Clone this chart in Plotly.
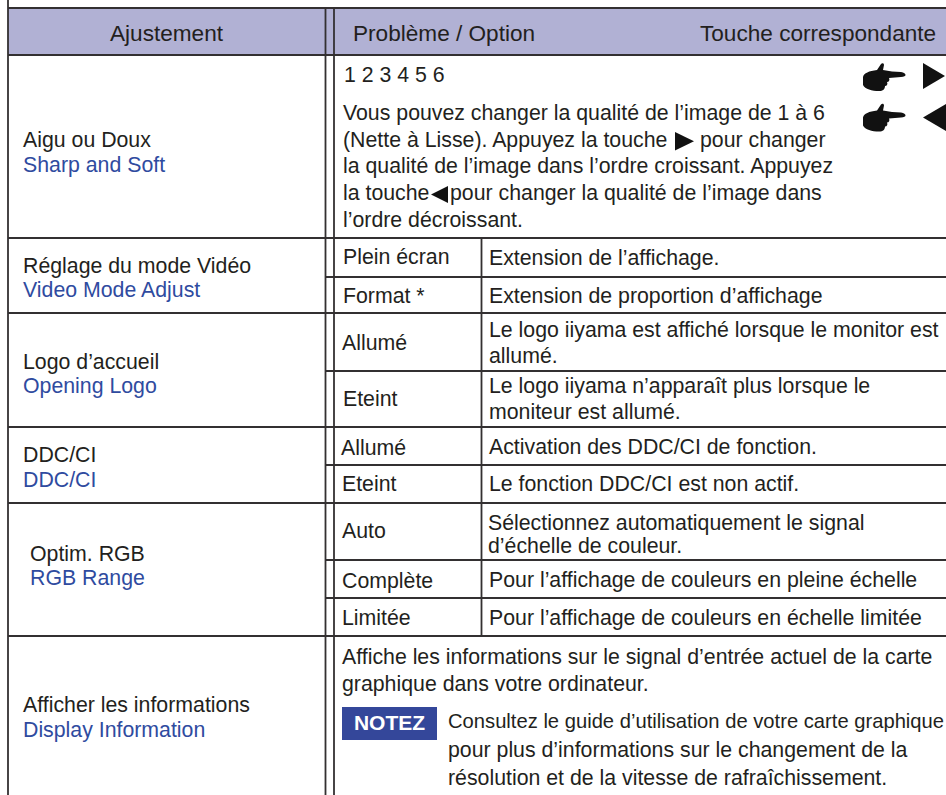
import plotly.graph_objects as go

FONT = "Liberation Sans"
INK = "#231f20"
BLUE = "#2f4b9f"
RULE = "#333031"
HEADER_FILL = "#b1b1d4"
NOTE_FILL = "#34479a"
GLYPH = "#111111"

# --- table structure ---
group_rules = [8, 55, 238, 313, 427, 503, 636]
row_rules = [277, 371, 465, 560, 598]
column_rules = [325.5, 334]
option_rule = 481.5

# --- header ---
header_text = ["Ajustement", "Problème / Option", "Touche correspondante"]
header_x = [110, 353, 700]
header_y = [35, 35, 35]

# --- black body text ---
body_text = [
    "Aigu ou Doux", "Réglage du mode Vidéo", "Logo d’accueil", "DDC/CI", "Optim. RGB",
    "Afficher les informations",
    "1 2 3 4 5 6",
    "Vous pouvez changer la qualité de l’image de 1 à 6",
    "(Nette à Lisse). Appuyez la touche", "pour changer",
    "la qualité de l’image dans l’ordre croissant. Appuyez",
    "la touche", "pour changer la qualité de l’image dans",
    "l’ordre décroissant.",
    "Plein écran", "Format *", "Extension de l’affichage.", "Extension de proportion d’affichage",
    "Allumé", "Eteint",
    "Le logo iiyama est affiché lorsque le monitor est", "allumé.",
    "Le logo iiyama n’apparaît plus lorsque le", "moniteur est allumé.",
    "Allumé", "Activation des DDC/CI de fonction.",
    "Eteint", "Le fonction DDC/CI est non actif.",
    "Auto", "Sélectionnez automatiquement le signal", "d’échelle de couleur.",
    "Complète", "Pour l’affichage de couleurs en pleine échelle",
    "Limitée", "Pour l’affichage de couleurs en échelle limitée",
    "Affiche les informations sur le signal d’entrée actuel de la carte",
    "graphique dans votre ordinateur.",
    "Consultez le guide d’utilisation de votre carte graphique",
    "pour plus d’informations sur le changement de la",
    "résolution et de la vitesse de rafraîchissement.",
]
body_x = [
    23, 23, 23, 23, 30, 23,
    344, 343, 343, 700, 343, 343, 450, 343,
    343, 343, 489, 489,
    342, 343, 489, 489, 489, 489,
    341, 489, 342, 489,
    342, 488, 488, 342, 489, 342, 489,
    342, 342, 448, 448, 448,
]
body_y = [
    142, 268, 364, 457, 556, 707,
    77, 115, 142, 142, 168, 195, 195, 222,
    259, 298, 260, 298,
    345, 401, 332, 358, 388, 414,
    450, 449, 486, 486,
    533, 525, 548, 583, 582, 620, 620,
    659, 686, 723, 752, 780,
]
body_size = [21.3] * len(body_text)
body_size[-3] = 20.2

# --- blue (English) labels ---
blue_text = ["Sharp and Soft", "Video Mode Adjust", "Opening Logo", "DDC/CI", "RGB Range", "Display Information"]
blue_x = [23, 23, 23, 23, 30, 23]
blue_y = [167, 292, 388, 482, 580, 732]

# --- note badge ---
note_text = ["NOTEZ"]
note_x = [389.5]
note_y = [725]
note_box = (342, 437, 707, 740)

fig = go.Figure()


def rule(x0, x1, y0, y1, width=1.8):
    fig.add_trace(go.Scatter(x=[x0, x1], y=[y0, y1], mode="lines",
                             line=dict(color=RULE, width=width),
                             hoverinfo="skip", showlegend=False))


fig.add_shape(type="rect", x0=8, x1=946, y0=group_rules[0], y1=group_rules[1],
              fillcolor=HEADER_FILL, line_width=0, layer="below")
fig.add_shape(type="rect", x0=note_box[0], x1=note_box[1], y0=note_box[2], y1=note_box[3],
              fillcolor=NOTE_FILL, line_width=0, layer="below")

for y in group_rules:
    rule(8, 946, y, y)
for y in row_rules:
    rule(column_rules[0], 946, y, y)
rule(8, 8, 0, 795)
for x in column_rules:
    rule(x, x, group_rules[0], 795)
rule(option_rule, option_rule, group_rules[2], group_rules[6])


def hand(ox, oy):
    def p(x, y):
        return f"{ox + x},{oy + y}"
    path = (f"M{p(0, 14)} C{p(1, 10)} {p(6, 8)} {p(14, 7)} L{p(18, 1)} C{p(19, 0)} {p(21, 0)} {p(21, 2)} "
            f"L{p(20, 7)} C{p(26, 8)} {p(32, 9)} {p(38, 9)} C{p(44, 10)} {p(44, 14)} {p(38, 14)} L{p(26, 15)} "
            f"C{p(27, 17)} {p(26, 19)} {p(24, 19)} C{p(25, 21)} {p(24, 23)} {p(22, 23)} "
            f"C{p(22, 26)} {p(20, 28)} {p(16, 28)} C{p(9, 28)} {p(2, 26)} {p(0, 22)} Z")
    fig.add_shape(type="path", path=path, fillcolor=GLYPH, line_width=0)


def arrow(x0, x1, y0, y1, tip_right=True):
    if tip_right:
        path = f"M{x0},{y0} L{x1},{(y0 + y1) / 2} L{x0},{y1} Z"
    else:
        path = f"M{x1},{y0} L{x0},{(y0 + y1) / 2} L{x1},{y1} Z"
    fig.add_shape(type="path", path=path, fillcolor=GLYPH, line_width=0)


hand(863, 63)
hand(863, 103.5)
arrow(923, 945, 63, 89, True)
arrow(923, 946, 104, 131, False)
arrow(675, 694, 132, 150.5, True)
arrow(431, 448, 186, 203, False)


def text_trace(x, y, text, size, color, bold=False, pos="middle right"):
    fig.add_trace(go.Scatter(x=x, y=y, text=text, mode="text", textposition=pos,
                             textfont=dict(family=FONT, size=size, color=color,
                                           weight="bold" if bold else "normal"),
                             hoverinfo="skip", showlegend=False, cliponaxis=False))


text_trace(header_x, header_y, header_text, 22.6, INK)
text_trace(body_x, body_y, body_text, body_size, INK)
text_trace(blue_x, blue_y, blue_text, 21.3, BLUE)
text_trace(note_x, note_y, note_text, 21, "#ffffff", bold=True, pos="middle center")

fig.update_layout(
    width=946, height=795, margin=dict(l=0, r=0, t=0, b=0),
    paper_bgcolor="white", plot_bgcolor="white", showlegend=False,
    xaxis=dict(range=[0, 946], visible=False, fixedrange=True),
    yaxis=dict(range=[795, 0], visible=False, fixedrange=True),
)
fig.write_html("out.html", config={"displayModeBar": False},
               post_script="document.body.style.margin='0';document.body.style.overflow='hidden';")
